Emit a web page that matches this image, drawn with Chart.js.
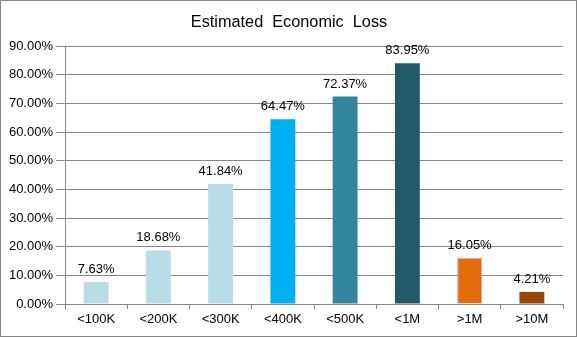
<!DOCTYPE html>
<html>
<head>
<meta charset="utf-8">
<script src="https://cdn.jsdelivr.net/npm/chart.js@4"></script>
<style>
html,body{margin:0;padding:0;background:#fff;}
#wrap{width:577px;height:337px;position:relative;}
</style>
</head>
<body>
<div id="wrap"><canvas id="c" width="577" height="337"></canvas></div>
<script>
const categories = ['<100K','<200K','<300K','<400K','<500K','<1M','>1M','>10M'];
const lossValues = [7.63, 18.68, 41.84, 64.47, 72.37, 83.95, 16.05, 4.21];
const yTicks = [0,10,20,30,40,50,60,70,80,90];
const barColors = ['#B7DEE8','#B7DEE8','#B7DEE8','#00B0F0','#31859C','#215968','#E46C0A','#974706'];
const barBorders = ['#B7DEE8','#B7DEE8','#B7DEE8','#00B0F0','#31859C','#215968','#E6A0A0','#974706'];
const titleText = 'Estimated  Economic  Loss';

const FONT = "'Liberation Sans', Arial, sans-serif";

const labelPlugin = {
  id: 'barLabels',
  afterDatasetsDraw(chart){
    const ctx = chart.ctx;
    const meta = chart.getDatasetMeta(0);
    ctx.save();
    ctx.font = '13px ' + FONT;
    ctx.fillStyle = '#000';
    ctx.textAlign = 'center';
    ctx.textBaseline = 'alphabetic';
    meta.data.forEach((bar,i)=>{
      ctx.fillText(lossValues[i].toFixed(2)+'%', bar.x, bar.y - 9);
    });
    ctx.restore();
  }
};
const titlePlugin = {
  id: 'customTitle',
  afterDraw(chart){
    const ctx = chart.ctx;
    ctx.save();
    ctx.font = '16.3px ' + FONT;
    ctx.fillStyle = '#000';
    ctx.textAlign = 'center';
    ctx.textBaseline = 'alphabetic';
    ctx.fillText(titleText, 289, 26.5);
    ctx.strokeStyle = '#868686';
    ctx.lineWidth = 1;
    ctx.strokeRect(0.5,0.5,chart.width-1,chart.height-1);
    ctx.restore();
  }
};

new Chart(document.getElementById('c'), {
  type: 'bar',
  data: {
    labels: categories,
    datasets: [{
      data: lossValues,
      backgroundColor: barColors,
      borderColor: barBorders,
      borderWidth: [0,0,0,0,0,0,1,0],
      categoryPercentage: 1,
      barPercentage: 0.4
    }]
  },
  options: {
    responsive: false,
    animation: false,
    layout: {padding: {left: 0, right: 14, top: 46, bottom: 0}},
    plugins: {
      legend: {display: false},
      tooltip: {enabled: false},
      title: {display: false}
    },
    scales: {
      x: {
        grid: {display: true, drawOnChartArea: false, drawTicks: true, tickLength: 5, color: '#868686', offset: true},
        border: {display: true, color: '#868686'},
        ticks: {color: '#000', font: {family: FONT, size: 13}, padding: 3, maxRotation: 0},
        afterFit(s){ s.height = 33; }
      },
      y: {
        min: 0, max: 90,
        afterBuildTicks(s){ s.ticks = yTicks.map(v=>({value:v})); },
        grid: {color: '#868686', tickLength: 9, drawTicks: true},
        border: {display: true, color: '#868686'},
        ticks: {color: '#000', font: {family: FONT, size: 13}, padding: 3,
          callback: v => Number(v).toFixed(2) + '%'},
        afterFit(s){ s.width = 65; }
      }
    }
  },
  plugins: [labelPlugin, titlePlugin]
});
</script>
</body>
</html>
